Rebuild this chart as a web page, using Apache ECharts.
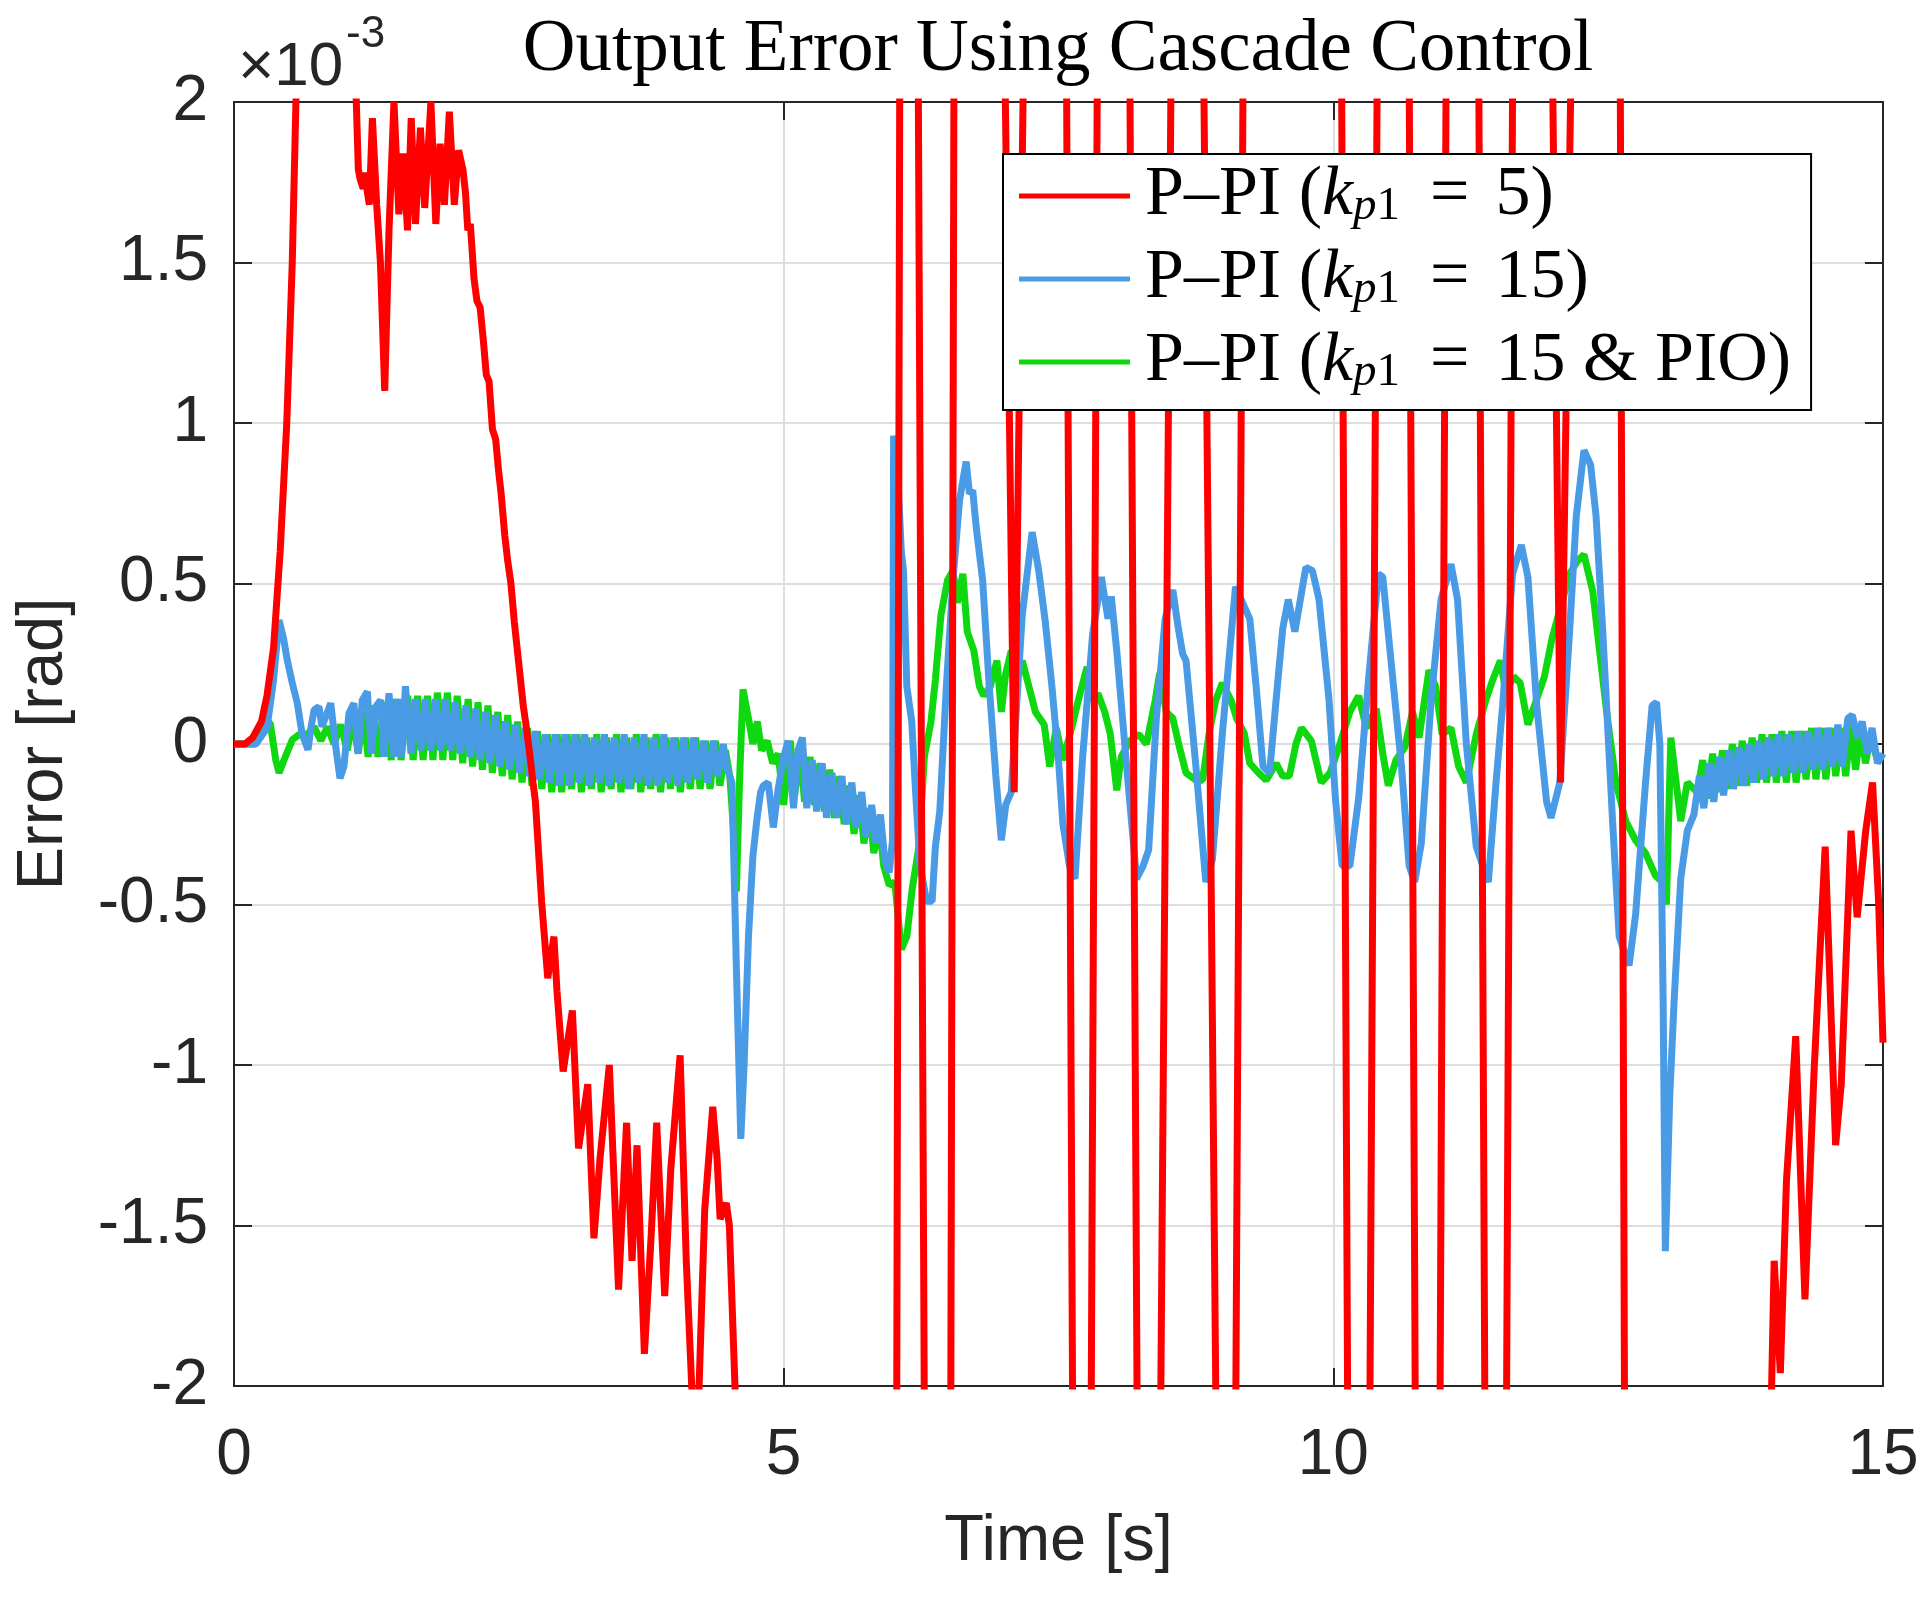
<!DOCTYPE html>
<html>
<head>
<meta charset="utf-8">
<script src="https://cdn.jsdelivr.net/npm/echarts@6/dist/echarts.min.js"></script>
<style>
  html, body { margin: 0; padding: 0; background: #fff; }
  #chart { width: 1930px; height: 1600px; }
</style>
</head>
<body>
<div id="chart"></div>
<script>
// time in s, error in units of 1e-3 rad (axis shows x10^-3)
const xTicks = [0, 5, 10, 15];
const yTicks = [-2, -1.5, -1, -0.5, 0, 0.5, 1, 1.5, 2];
const seriesNames = ['P–PI (kp1 = 5)', 'P–PI (kp1 = 15)', 'P–PI (kp1 = 15 & PIO)'];
const legendValues = ['5', '15', '15 & PIO'];

// P-PI kp1 = 5 (leaves the visible range a lot)
const redData = [
  [0,0],[0.1,0.0],[0.17,0.02],[0.25,0.07],[0.3,0.15],[0.36,0.3],[0.42,0.6],[0.48,1.0],[0.53,1.5],[0.57,2.1],[0.85,3.0],
  [1.108,2.05],[1.131,1.79],[1.147,1.76],[1.175,1.73],[1.186,1.78],[1.231,1.68],[1.259,1.95],[1.298,1.68],[1.332,1.5],
  [1.371,1.10],[1.41,1.6],[1.455,2.0],[1.5,1.65],[1.539,1.84],[1.578,1.6],[1.612,1.95],[1.651,1.62],[1.696,1.92],
  [1.735,1.67],[1.791,2.0],[1.836,1.62],[1.875,1.87],[1.914,1.68],[1.959,1.97],[2.004,1.68],[2.043,1.85],[2.082,1.79],
  [2.105,1.72],[2.127,1.6],[2.15,1.62],[2.183,1.45],[2.21,1.38],[2.239,1.36],[2.27,1.25],[2.295,1.15],[2.32,1.13],
  [2.351,0.98],[2.38,0.95],[2.407,0.85],[2.43,0.78],[2.463,0.65],[2.49,0.57],[2.519,0.5],[2.55,0.38],[2.575,0.3],
  [2.6,0.22],[2.631,0.12],[2.66,0.05],[2.686,-0.02],[2.72,-0.12],[2.742,-0.18],[2.798,-0.49],[2.854,-0.73],[2.91,-0.6],
  [2.938,-0.77],[2.994,-1.02],[3.078,-0.83],[3.134,-1.26],[3.218,-1.06],[3.274,-1.54],[3.33,-1.29],[3.414,-1.0],
  [3.498,-1.7],[3.571,-1.18],[3.621,-1.61],[3.666,-1.25],[3.733,-1.9],[3.795,-1.53],[3.845,-1.18],[3.918,-1.72],
  [3.974,-1.32],[4.058,-0.97],[4.114,-1.61],[4.17,-2.05],[4.226,-2.05],[4.282,-1.45],[4.355,-1.13],[4.394,-1.29],
  [4.422,-1.48],[4.478,-1.43],[4.506,-1.5],[4.562,-2.05],[5.3,-3.0],
  [6.028,-2.1],[6.056,2.1],[6.14,3.0],[6.224,2.1],[6.28,-2.1],[6.4,-3.0],[6.52,-2.1],[6.549,2.1],[6.78,3.0],
  [7.013,2.1],[7.097,-0.15],[7.181,2.1],[7.38,3.0],[7.573,2.1],[7.629,-2.1],[7.71,-3.0],[7.797,-2.1],[7.853,2.1],
  [8.0,3.0],[8.149,2.1],[8.216,-2.1],[8.32,-3.0],[8.429,-2.1],[8.524,2.1],[8.67,3.0],[8.821,2.1],[8.933,-2.1],
  [9.02,-3.0],[9.112,-2.1],[9.179,2.1],[9.63,3.0],[10.075,2.1],[10.131,-2.1],[10.23,-3.0],[10.332,-2.1],[10.399,2.1],
  [10.54,3.0],[10.69,2.1],[10.746,-2.1],[10.86,-3.0],[10.97,-2.1],[11.026,2.1],[11.17,3.0],[11.323,2.1],[11.379,-2.1],
  [11.48,-3.0],[11.575,-2.1],[11.631,2.1],[11.81,3.0],[11.994,2.1],[12.067,-0.12],[12.162,2.1],[12.39,3.0],
  [12.61,2.1],[12.649,-2.1],[13.4,-3.0],
  [13.981,-2.1],[14.01,-1.61],[14.066,-1.96],[14.122,-1.36],[14.206,-0.91],[14.29,-1.73],[14.373,-1.02],
  [14.474,-0.32],[14.569,-1.25],[14.62,-1.06],[14.709,-0.27],[14.765,-0.54],[14.843,-0.27],[14.905,-0.12],
  [14.961,-0.5],[15,-0.93]
];

// P-PI kp1 = 15
const blueData = [
  [0,0],[0.2,0.0],[0.3,0.05],[0.36,0.2],[0.41,0.386],[0.45,0.33],[0.485,0.26],[0.53,0.19],[0.576,0.127],[0.62,0.03],
  [0.673,-0.018],[0.7,0.05],[0.728,0.106],[0.773,0.116],[0.8,0.054],[0.84,0.09],[0.88,0.127],[0.925,-0.008],
  [0.964,-0.107],[1.0,-0.07],[1.046,0.096],[1.09,0.127],[1.128,-0.029],[1.167,0.137],[1.213,0.163],[1.25,-0.03],
  [1.289,0.116],[1.334,0.137],[1.364,-0.04],[1.41,0.158],[1.455,-0.04],[1.49,0.14],[1.52,-0.04],[1.56,0.18],
  [1.61,-0.03],[1.65,0.14],[1.7,-0.02],[1.74,0.14],[1.79,-0.02],[1.83,0.14],[1.88,-0.02],[1.92,0.14],[1.97,-0.02],
  [2.01,0.13],[2.06,-0.03],[2.11,0.12],[2.15,-0.04],[2.2,0.11],[2.24,-0.05],[2.29,0.1],[2.33,-0.06],[2.38,0.09],
  [2.42,-0.07],[2.47,0.07],[2.51,-0.08],[2.56,0.06],[2.6,-0.09],[2.65,0.05],[2.69,-0.1],[2.74,0.04],[2.78,-0.11],
  [2.83,0.03],[2.87,-0.12],[2.92,0.03],[2.96,-0.13],[3.01,0.03],[3.05,-0.13],[3.1,0.03],[3.14,-0.12],[3.19,0.03],
  [3.23,-0.13],[3.28,0.02],[3.32,-0.12],[3.37,0.03],[3.41,-0.13],[3.46,0.02],[3.5,-0.12],[3.55,0.03],[3.59,-0.14],
  [3.64,0.02],[3.68,-0.12],[3.73,0.03],[3.77,-0.13],[3.82,0.02],[3.86,-0.13],[3.91,0.03],[3.95,-0.12],[4.0,0.02],
  [4.04,-0.13],[4.09,0.02],[4.13,-0.12],[4.18,0.02],[4.22,-0.11],[4.27,0.01],[4.31,-0.12],[4.36,0.01],[4.4,-0.1],
  [4.45,0.0],[4.49,-0.08],[4.53,-0.12],[4.57,-0.7],[4.61,-1.23],[4.64,-1.0],[4.68,-0.6],[4.72,-0.35],[4.755,-0.24],
  [4.79,-0.15],[4.815,-0.13],[4.86,-0.12],[4.906,-0.26],[4.95,-0.14],[5.0,-0.04],[5.04,0.01],[5.09,-0.2],[5.13,-0.02],
  [5.17,0.02],[5.21,-0.2],[5.26,-0.05],[5.3,-0.21],[5.35,-0.06],[5.39,-0.23],[5.44,-0.09],[5.48,-0.23],[5.53,-0.1],
  [5.57,-0.25],[5.62,-0.12],[5.66,-0.26],[5.71,-0.15],[5.75,-0.29],[5.8,-0.19],[5.84,-0.31],[5.88,-0.22],[5.92,-0.36],
  [5.96,-0.4],[5.99,-0.3],[6.0,0.96],[6.03,0.9],[6.07,0.6],[6.09,0.54],[6.12,0.18],[6.165,0.07],[6.2,-0.15],
  [6.24,-0.375],[6.3,-0.49],[6.35,-0.49],[6.38,-0.32],[6.42,-0.21],[6.48,0.18],[6.54,0.51],[6.6,0.76],[6.66,0.88],
  [6.69,0.78],[6.72,0.79],[6.75,0.68],[6.81,0.51],[6.87,0.18],[6.93,-0.1],[6.98,-0.3],[7.02,-0.19],[7.07,-0.15],
  [7.11,0.07],[7.17,0.4],[7.26,0.66],[7.32,0.54],[7.38,0.38],[7.44,0.18],[7.5,-0.05],[7.54,-0.25],[7.6,-0.38],
  [7.65,-0.42],[7.72,-0.04],[7.81,0.34],[7.89,0.52],[7.95,0.39],[7.98,0.46],[8.03,0.29],[8.12,-0.07],[8.21,-0.42],
  [8.27,-0.38],[8.32,-0.33],[8.39,0.08],[8.47,0.39],[8.54,0.48],[8.59,0.36],[8.63,0.28],[8.66,0.26],[8.75,-0.07],
  [8.84,-0.43],[8.9,-0.36],[8.99,0.03],[9.11,0.49],[9.24,0.39],[9.3,0.17],[9.36,-0.07],[9.42,-0.09],[9.48,0.14],
  [9.54,0.36],[9.59,0.45],[9.65,0.35],[9.75,0.55],[9.81,0.54],[9.87,0.45],[9.96,0.14],[10.02,-0.175],[10.08,-0.38],
  [10.15,-0.38],[10.23,-0.17],[10.32,0.2],[10.41,0.53],[10.45,0.52],[10.53,0.24],[10.62,-0.07],[10.69,-0.38],
  [10.74,-0.43],[10.8,-0.31],[10.89,0.14],[10.98,0.45],[11.07,0.56],[11.13,0.45],[11.21,0.0],[11.3,-0.32],
  [11.41,-0.43],[11.48,-0.12],[11.54,0.12],[11.63,0.53],[11.71,0.62],[11.77,0.52],[11.85,0.12],[11.94,-0.18],
  [11.98,-0.23],[12.06,-0.12],[12.15,0.355],[12.21,0.71],[12.28,0.915],[12.34,0.87],[12.39,0.71],[12.45,0.355],
  [12.54,-0.24],[12.6,-0.6],[12.69,-0.69],[12.75,-0.53],[12.84,-0.12],[12.9,0.12],[12.94,0.13],[12.97,0.0],
  [13.0,-0.8],[13.02,-1.58],[13.06,-1.1],[13.1,-0.8],[13.16,-0.42],[13.22,-0.27],[13.28,-0.22],[13.33,-0.1],
  [13.37,-0.2],[13.42,-0.06],[13.46,-0.18],[13.51,-0.04],[13.55,-0.16],[13.6,-0.02],[13.64,-0.14],[13.69,-0.01],
  [13.73,-0.13],[13.78,0.0],[13.82,-0.12],[13.87,0.01],[13.91,-0.11],[13.96,0.02],[14.0,-0.1],[14.05,0.03],
  [14.09,-0.1],[14.14,0.03],[14.18,-0.09],[14.23,0.04],[14.27,-0.09],[14.32,0.04],[14.36,-0.08],[14.41,0.05],
  [14.45,-0.08],[14.5,0.05],[14.54,-0.07],[14.59,0.06],[14.63,-0.07],[14.68,0.08],[14.72,0.09],[14.77,0.02],
  [14.81,0.07],[14.86,-0.03],[14.9,0.05],[14.95,-0.06],[15,-0.03]
];

// P-PI kp1 = 15 with PIO
const greenData = [
  [0,0],[0.2,0.0],[0.27,0.074],[0.33,0.064],[0.38,-0.05],[0.41,-0.09],[0.455,-0.05],[0.53,0.013],[0.606,0.033],
  [0.667,0.03],[0.728,0.054],[0.79,0.01],[0.85,0.054],[0.91,0.0],[0.97,0.06],[1.03,-0.02],[1.08,0.08],[1.13,-0.03],
  [1.18,0.1],[1.22,-0.04],[1.27,0.12],[1.31,-0.04],[1.38,0.13],[1.43,-0.05],[1.47,0.14],[1.52,-0.05],[1.58,0.15],
  [1.63,-0.05],[1.67,0.15],[1.72,-0.05],[1.76,0.15],[1.81,-0.05],[1.85,0.16],[1.9,-0.05],[1.94,0.16],[1.99,-0.05],
  [2.03,0.15],[2.08,-0.06],[2.13,0.14],[2.17,-0.07],[2.22,0.13],[2.26,-0.08],[2.31,0.12],[2.35,-0.09],[2.4,0.1],
  [2.44,-0.1],[2.49,0.09],[2.53,-0.11],[2.58,0.07],[2.62,-0.12],[2.67,0.05],[2.71,-0.13],[2.76,0.04],[2.8,-0.14],
  [2.85,0.03],[2.89,-0.15],[2.94,0.03],[2.98,-0.15],[3.03,0.03],[3.07,-0.14],[3.12,0.03],[3.16,-0.15],[3.21,0.02],
  [3.25,-0.14],[3.3,0.03],[3.34,-0.15],[3.39,0.02],[3.43,-0.14],[3.48,0.03],[3.52,-0.15],[3.57,0.02],[3.61,-0.14],
  [3.66,0.03],[3.7,-0.15],[3.75,0.02],[3.79,-0.14],[3.84,0.03],[3.88,-0.15],[3.93,0.02],[3.97,-0.14],[4.02,0.02],
  [4.06,-0.15],[4.11,0.02],[4.15,-0.14],[4.2,0.02],[4.24,-0.14],[4.29,0.01],[4.33,-0.14],[4.38,0.01],[4.42,-0.13],
  [4.47,-0.02],[4.51,-0.1],[4.55,-0.3],[4.57,-0.46],[4.6,-0.1],[4.63,0.17],[4.68,0.08],[4.72,0.0],[4.76,0.07],
  [4.8,-0.02],[4.85,0.01],[4.9,-0.06],[4.95,-0.03],[5.0,-0.19],[5.06,0.01],[5.1,-0.16],[5.15,-0.02],[5.19,-0.18],
  [5.24,-0.04],[5.28,-0.19],[5.33,-0.06],[5.37,-0.21],[5.42,-0.08],[5.46,-0.23],[5.51,-0.1],[5.55,-0.25],[5.6,-0.13],
  [5.64,-0.28],[5.69,-0.16],[5.73,-0.31],[5.78,-0.2],[5.82,-0.34],[5.87,-0.25],[5.91,-0.38],[5.96,-0.44],[6.01,-0.43],
  [6.07,-0.64],[6.12,-0.6],[6.17,-0.45],[6.23,-0.32],[6.28,-0.04],[6.34,0.07],[6.38,0.2],[6.43,0.4],[6.49,0.51],
  [6.54,0.54],[6.58,0.44],[6.63,0.53],[6.67,0.35],[6.73,0.29],[6.78,0.18],[6.82,0.15],[6.88,0.18],[6.94,0.26],
  [6.98,0.1],[7.02,0.22],[7.07,0.29],[7.11,0.2],[7.17,0.26],[7.23,0.18],[7.29,0.1],[7.37,0.06],[7.42,-0.07],
  [7.48,0.05],[7.54,-0.05],[7.62,0.05],[7.68,0.136],[7.76,0.24],[7.8,0.136],[7.86,0.157],[7.92,0.1],[7.97,0.033],
  [8.03,-0.144],[8.07,-0.04],[8.15,0.01],[8.23,0.03],[8.3,0.0],[8.38,0.136],[8.42,0.22],[8.48,0.1],[8.54,0.08],
  [8.6,-0.01],[8.66,-0.09],[8.75,-0.113],[8.81,-0.113],[8.87,0.033],[8.93,0.136],[8.99,0.19],[9.07,0.136],[9.12,0.08],
  [9.19,0.033],[9.24,-0.06],[9.32,-0.09],[9.39,-0.113],[9.48,-0.06],[9.54,-0.1],[9.6,-0.1],[9.66,0.0],[9.71,0.05],
  [9.8,0.01],[9.89,-0.12],[9.97,-0.09],[10.06,0.0],[10.15,0.1],[10.23,0.15],[10.3,0.05],[10.39,0.11],[10.45,-0.03],
  [10.5,-0.13],[10.57,-0.05],[10.65,-0.01],[10.72,0.1],[10.78,0.02],[10.87,0.23],[10.93,0.18],[10.99,0.03],
  [11.07,0.05],[11.14,-0.07],[11.21,-0.12],[11.3,0.03],[11.39,0.14],[11.45,0.2],[11.52,0.26],[11.57,0.16],
  [11.64,0.21],[11.7,0.19],[11.77,0.06],[11.85,0.14],[11.92,0.21],[11.99,0.33],[12.07,0.43],[12.15,0.53],
  [12.22,0.57],[12.28,0.59],[12.36,0.475],[12.42,0.296],[12.48,0.117],[12.57,-0.12],[12.66,-0.24],[12.75,-0.3],
  [12.84,-0.34],[12.93,-0.41],[12.99,-0.43],[13.03,-0.5],[13.07,0.02],[13.16,-0.24],[13.22,-0.12],[13.31,-0.15],
  [13.36,-0.05],[13.4,-0.17],[13.45,-0.03],[13.49,-0.15],[13.54,-0.02],[13.58,-0.14],[13.63,0.0],[13.67,-0.13],
  [13.72,0.01],[13.76,-0.13],[13.81,0.02],[13.85,-0.12],[13.9,0.03],[13.94,-0.12],[13.99,0.03],[14.03,-0.12],
  [14.08,0.04],[14.12,-0.12],[14.17,0.04],[14.21,-0.12],[14.26,0.04],[14.3,-0.11],[14.35,0.05],[14.39,-0.11],
  [14.44,0.05],[14.48,-0.11],[14.53,0.05],[14.57,-0.1],[14.62,0.05],[14.66,-0.1],[14.71,0.06],[14.75,-0.08],
  [14.8,0.05],[14.84,-0.06],[14.89,0.03],[14.94,-0.04],[15,-0.05]
];

const axisColor = '#262626';
const tickFont = { fontFamily: 'Liberation Sans', fontSize: 64, color: axisColor };
const serif = 'Liberation Serif';
const lineWidth = 7;

const chart = echarts.init(document.getElementById('chart'), null, { renderer: 'canvas' });

function boxAxis(extra) {
  // top/right copies of the axes so the plot is boxed with inner ticks
  return Object.assign({
    type: 'value',
    axisLine: { show: true, onZero: false, lineStyle: { color: axisColor, width: 2 } },
    axisTick: { show: true, inside: true, length: 18, lineStyle: { color: axisColor, width: 2 } },
    axisLabel: { show: false },
    splitLine: { show: false }
  }, extra);
}

const option = {
  animation: false,
  backgroundColor: '#fff',
  grid: { left: 234, right: 47, top: 102, bottom: 214, containLabel: false },
  xAxis: [
    {
      type: 'value', min: xTicks[0], max: xTicks[xTicks.length - 1], interval: 5,
      name: 'Time [s]', nameLocation: 'middle', nameGap: 124,
      nameTextStyle: { fontFamily: 'Liberation Sans', fontSize: 65, color: axisColor },
      axisLine: { onZero: false, lineStyle: { color: axisColor, width: 2 } },
      axisTick: { inside: true, length: 18, lineStyle: { color: axisColor, width: 2 } },
      axisLabel: Object.assign({ margin: 38 }, tickFont),
      splitLine: { show: true, lineStyle: { color: '#dedede', width: 2 } }
    },
    boxAxis({ position: 'top', min: 0, max: 15, interval: 5 })
  ],
  yAxis: [
    {
      type: 'value', min: yTicks[0], max: yTicks[yTicks.length - 1], interval: 0.5,
      name: 'Error [rad]', nameLocation: 'middle', nameGap: 157,
      nameTextStyle: { fontFamily: 'Liberation Sans', fontSize: 65, color: axisColor },
      axisLine: { show: true, onZero: false, lineStyle: { color: axisColor, width: 2 } },
      axisTick: { show: true, inside: true, length: 18, lineStyle: { color: axisColor, width: 2 } },
      axisLabel: Object.assign({ margin: 26 }, tickFont),
      splitLine: { show: true, lineStyle: { color: '#dedede', width: 2 } }
    },
    boxAxis({ position: 'right', min: -2, max: 2, interval: 0.5 })
  ],
  legend: {
    orient: 'vertical',
    z: 20,
    left: 1003, top: 154,
    padding: [7, 20, 13, 16],
    itemGap: 13,
    itemWidth: 111, itemHeight: 5,
    icon: 'rect',
    backgroundColor: '#fff',
    borderColor: '#000', borderWidth: 2,
    data: seriesNames,
    formatter: function (name) {
      const v = legendValues[seriesNames.indexOf(name)];
      return '{a|P–PI (}{k|k}{s|p}{n|1}{e|=}{r|' + v + ')}';
    },
    textStyle: {
      rich: {
        a: { fontFamily: serif, fontSize: 70, color: '#000', lineHeight: 68, padding: [0, 0, 0, 10] },
        r: { fontFamily: serif, fontSize: 70, color: '#000', lineHeight: 68 },
        e: { fontFamily: serif, fontSize: 70, color: '#000', lineHeight: 68, padding: [0, 26, 0, 30] },
        k: { fontFamily: serif, fontSize: 70, fontStyle: 'italic', color: '#000', lineHeight: 68 },
        s: { fontFamily: serif, fontSize: 47, fontStyle: 'italic', color: '#000', lineHeight: 30, verticalAlign: 'bottom' },
        n: { fontFamily: serif, fontSize: 47, color: '#000', lineHeight: 30, verticalAlign: 'bottom' }
      }
    }
  },
  graphic: [
    {
      type: 'text', x: 1058, y: 51, silent: true,
      style: { text: 'Output Error Using Cascade Control', fontFamily: serif, fontSize: 73, fill: '#000', align: 'center', verticalAlign: 'middle' }
    },
    {
      type: 'text', x: 238, y: 68, silent: true,
      style: { text: '×10', fontFamily: 'Liberation Sans', fontSize: 62, fill: axisColor, align: 'left', verticalAlign: 'middle' }
    },
    {
      type: 'text', x: 346, y: 35, silent: true,
      style: { text: '-3', fontFamily: 'Liberation Sans', fontSize: 44, fill: axisColor, align: 'left', verticalAlign: 'middle' }
    }
  ],
  series: [
    { name: seriesNames[0], type: 'line', data: redData, z: 5, showSymbol: false, symbol: 'none', clip: true,
      color: '#ff0000', lineStyle: { color: '#ff0000', width: lineWidth } },
    { name: seriesNames[1], type: 'line', data: blueData, z: 4, showSymbol: false, symbol: 'none', clip: true,
      color: '#4a9be6', lineStyle: { color: '#4a9be6', width: lineWidth } },
    { name: seriesNames[2], type: 'line', data: greenData, z: 3, showSymbol: false, symbol: 'none', clip: true,
      color: '#10d810', lineStyle: { color: '#10d810', width: lineWidth } }
  ]
};

chart.setOption(option);
</script>
</body>
</html>
